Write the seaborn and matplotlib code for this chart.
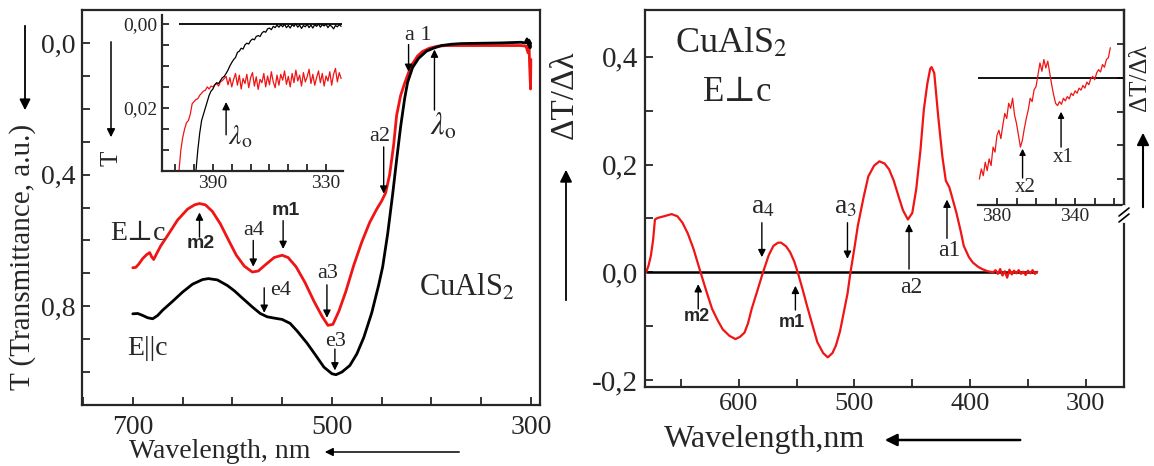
import pandas as pd
import matplotlib
matplotlib.use("Agg")
import matplotlib.pyplot as plt
import seaborn as sns
from matplotlib.ticker import MultipleLocator
from matplotlib.patches import FancyArrowPatch
from matplotlib.lines import Line2D

sns.set_style("ticks")
plt.rcParams["font.family"] = ["Liberation Serif", "DejaVu Serif"]
plt.rcParams["mathtext.fontset"] = "stix"

RED = "#f01414"

# ---------------- data ----------------
# left panel: transmittance, E||c (black)
wl_par = [700, 695, 690, 685, 680, 675, 670, 660, 650, 640, 630, 624, 615, 605, 598,
          590, 580, 572, 565, 558, 550, 542, 535, 525, 517, 508, 500, 496, 490, 482,
          475, 468, 460, 453, 449, 444, 439, 435, 431, 427, 424, 419, 413, 405, 398,
          390, 380, 370, 350, 330, 310, 306, 304, 303, 302, 301, 300.5]
t_par = [0.823, 0.822, 0.828, 0.835, 0.838, 0.828, 0.812, 0.785, 0.757, 0.733, 0.719,
         0.716, 0.720, 0.737, 0.753, 0.775, 0.802, 0.822, 0.832, 0.836, 0.840, 0.852,
         0.875, 0.912, 0.946, 0.985, 1.005, 1.008, 1.0, 0.98, 0.945, 0.895, 0.82,
         0.735, 0.68, 0.58, 0.46, 0.355, 0.255, 0.17, 0.12, 0.075, 0.047, 0.025, 0.016,
         0.008, 0.004, 0.002, 0.001, 0.0, -0.002, 0.0, -0.012, 0.004, -0.008, 0.015, 0.0]

# left panel: transmittance, E perp c (red)
wl_perp = [700, 697, 694, 690, 686, 683, 681, 679, 676, 672, 665, 655, 645, 638, 633,
           627, 620, 612, 604, 596, 588, 580, 574, 566, 558, 550, 544, 536, 527, 518,
           510, 504, 499, 493, 486, 478, 470, 462, 455, 450, 446, 442, 438, 435, 431,
           427, 423, 419, 414, 409, 402, 394, 385, 370, 350, 330, 310, 305, 303, 302,
           301.5, 301, 300.5, 300.2]
t_perp = [0.683, 0.682, 0.672, 0.655, 0.643, 0.637, 0.650, 0.658, 0.640, 0.617, 0.585,
          0.538, 0.505, 0.492, 0.488, 0.492, 0.512, 0.550, 0.598, 0.645, 0.678, 0.696,
          0.693, 0.672, 0.652, 0.645, 0.652, 0.680, 0.728, 0.785, 0.830, 0.858, 0.855,
          0.815, 0.755, 0.675, 0.605, 0.545, 0.505, 0.480, 0.455, 0.40, 0.31, 0.22,
          0.16, 0.123, 0.09, 0.063, 0.04, 0.026, 0.016, 0.010, 0.008, 0.008, 0.008,
          0.008, 0.008, 0.01, 0.03, 0.005, 0.06, 0.10, 0.14, 0.05]

# left inset: edge region, 1 nm steps
ins_wl_par = list(range(399, 321, -1))
ins_t_par = [0.035, 0.030, 0.026, 0.023, 0.0215, 0.020, 0.0185, 0.017, 0.016, 0.0155,
             0.0145, 0.0140, 0.0142, 0.0135, 0.0128, 0.0125, 0.0118, 0.0110, 0.0100,
             0.0092, 0.0085, 0.0080, 0.0068, 0.0065, 0.0058, 0.0060, 0.0050, 0.0046,
             0.0048, 0.0040, 0.0036, 0.0038, 0.0030, 0.0028, 0.0030, 0.0022, 0.0018,
             0.0020, 0.0012, 0.0010, 0.0014, 0.0006, 0.0009, 0.0003, 0.0008, 0.0002,
             0.0007, 0.0001, 0.0009, 0.0004, 0.0010, 0.0002, 0.0006, 0.0000, 0.0008,
             0.0003, 0.0011, 0.0004, 0.0007, 0.0001, 0.0009, 0.0003, 0.0010, 0.0002,
             0.0006, 0.0000, 0.0008, 0.0002, 0.0005, 0.0001, 0.0009, 0.0003, 0.0006,
             0.0012, 0.0004, 0.0007, 0.0002, 0.0006]
ins_wl_perp = list(range(408, 321, -1))
ins_t_perp = [0.035, 0.030, 0.027, 0.025, 0.0235, 0.023, 0.0215, 0.019, 0.0185, 0.018,
              0.0178, 0.017, 0.0165, 0.016, 0.0158, 0.015, 0.0155, 0.0148, 0.015,
              0.0145, 0.0142, 0.0148, 0.0138, 0.0135, 0.013, 0.0125, 0.0145, 0.0128,
              0.0150, 0.0132, 0.0118, 0.0146, 0.0122, 0.0155, 0.0130, 0.0142, 0.0120,
              0.0152, 0.0128, 0.0116, 0.0148, 0.0126, 0.0156, 0.0132, 0.0140, 0.0118,
              0.0150, 0.0124, 0.0145, 0.0114, 0.0138, 0.0152, 0.0122, 0.0146, 0.0120,
              0.0134, 0.0112, 0.0144, 0.0125, 0.0150, 0.0118, 0.0140, 0.0110, 0.0136,
              0.0122, 0.0148, 0.0116, 0.0138, 0.0126, 0.0108, 0.0142, 0.0120, 0.0146,
              0.0128, 0.0112, 0.0140, 0.0118, 0.0148, 0.0124, 0.0136, 0.0114, 0.0146,
              0.0120, 0.0106, 0.0138, 0.0116, 0.0130]

# right panel: derivative dT/dlambda, E perp c
wl_der = [680, 678, 676, 674, 672.4, 670, 664.6, 658, 653, 648.6, 644, 639, 633, 628,
          623, 618, 613.8, 608, 602.8, 599, 595, 592, 588.8, 584, 579, 574, 570, 566,
          563.4, 559, 555.5, 552, 549, 545, 541, 536, 532, 527, 523, 519, 516, 512.5,
          509.7, 506, 503.4, 500, 497, 492, 488, 483, 478.4, 474, 470, 466, 462, 458,
          453.8, 450, 446.6, 443, 440, 437, 434.5, 433.3, 431, 427.6, 424, 421, 418,
          415, 411.8, 408, 405.5, 401, 397.6, 393, 389.6, 385, 380, 378, 376, 374, 372,
          370, 368, 366, 364, 362, 360, 358, 356, 354, 352, 350, 348, 346, 344, 342]
d_der = [0.0, 0.012, 0.030, 0.06, 0.098, 0.101, 0.104, 0.108, 0.104, 0.092, 0.072,
         0.043, 0.0, -0.035, -0.068, -0.090, -0.106, -0.118, -0.124, -0.120, -0.112,
         -0.095, -0.068, -0.035, 0.0, 0.032, 0.049, 0.055, 0.055, 0.048, 0.037, 0.02,
         0.0, -0.03, -0.062, -0.100, -0.130, -0.150, -0.158, -0.150, -0.136, -0.110,
         -0.08, -0.04, 0.0, 0.045, 0.087, 0.14, 0.178, 0.198, 0.206, 0.202, 0.191,
         0.170, 0.142, 0.115, 0.098, 0.110, 0.154, 0.225, 0.302, 0.350, 0.378, 0.381,
         0.370, 0.290, 0.215, 0.17, 0.158, 0.135, 0.11, 0.075, 0.049, 0.028, 0.018,
         0.010, 0.006, 0.002, 0.0, 0.004, -0.003, 0.006, -0.006, 0.002, -0.010, 0.005,
         -0.004, 0.003, -0.002, 0.004, -0.003, 0.001, -0.005, 0.003, -0.002, 0.004,
         -0.003, 0.001]

# right inset: derivative near the edge (arb. units)
ins_wl_der = list(range(389, 321, -1))
ins_d_der = [-3.0, -2.7, -2.9, -2.5, -2.75, -2.4, -2.6, -2.05, -2.2, -1.7, -1.55, -1.8,
             -1.4, -1.05, -1.2, -0.75, -0.9, -0.6, -1.1, -1.35, -1.7, -2.05, -1.85,
             -1.5, -1.2, -0.95, -0.6, -0.7, -0.35, -0.25, 0.1, 0.45, 0.2, 0.55, 0.3,
             0.5, 0.15, -0.2, -0.5, -0.75, -0.82, -0.7, -0.78, -0.6, -0.68, -0.55,
             -0.62, -0.45, -0.52, -0.38, -0.45, -0.3, -0.36, -0.22, -0.3, -0.12, -0.2,
             -0.02, 0.05, -0.05, 0.15, 0.25, 0.18, 0.4, 0.32, 0.55, 0.6, 0.9]

# tick labels
l_xticks, l_xlabels = [700, 500, 300], ["700", "500", "300"]
l_yticks, l_ylabels = [0.0, 0.4, 0.8], ["0,0", "0,4", "0,8"]
li_xticks, li_xlabels = [390, 330], ["390", "330"]
li_yticks, li_ylabels = [0.0, 0.02], ["0,00", "0,02"]
r_xticks, r_xlabels = [600, 500, 400, 300], ["600", "500", "400", "300"]
r_yticks, r_ylabels = [0.4, 0.2, 0.0, -0.2], ["0,4", "0,2", "0,0", "-0,2"]
ri_xticks, ri_xlabels = [380, 340], ["380", "340"]

# ---------------- figure ----------------
W, H = 1154, 466
fig = plt.figure(figsize=(W / 100, H / 100), dpi=100)


def box(x0, y0, x1, y1):
    # pixel box (top-left origin) -> figure fraction rect
    return [x0 / W, 1 - y1 / H, (x1 - x0) / W, (y1 - y0) / H]


def fp(x, y):
    return (x / W, 1 - y / H)


def style_ticks(ax, size, pad, length=6):
    for s in ax.spines.values():
        s.set_linewidth(1.6)
    ax.tick_params(which="both", direction="in", length=length, width=1.3,
                   labelsize=size, pad=pad)
    ax.set_xlabel("")
    ax.set_ylabel("")


def arrow(ax, x, y0, y1, ms=11, lw=1.0):
    ax.annotate("", xy=(x, y1), xytext=(x, y0),
                arrowprops=dict(arrowstyle="-|>", color="k", lw=lw,
                                mutation_scale=ms, shrinkA=0, shrinkB=0))


def fig_arrow(p0, p1, ms=16, lw=1.3):
    fig.add_artist(FancyArrowPatch(fp(*p0), fp(*p1), transform=fig.transFigure,
                                   arrowstyle="-|>", mutation_scale=ms, lw=lw, color="k"))


# ---- left panel ----
ax1 = fig.add_axes(box(82, 10, 540, 405))
sns.lineplot(data=pd.DataFrame({"wl": wl_perp, "T": t_perp}), x="wl", y="T", ax=ax1,
             color=RED, lw=2.0, estimator=None, sort=False)
sns.lineplot(data=pd.DataFrame({"wl": wl_par, "T": t_par}), x="wl", y="T", ax=ax1,
             color="black", lw=2.0, estimator=None, sort=False)
ax1.set_xlim(751, 291)
ax1.set_ylim(1.10, -0.10)
ax1.set_xticks(l_xticks)
ax1.set_xticklabels(l_xlabels)
ax1.xaxis.set_minor_locator(MultipleLocator(50))
ax1.set_yticks(l_yticks)
ax1.set_yticklabels(l_ylabels)
ax1.yaxis.set_minor_locator(MultipleLocator(0.1))
style_ticks(ax1, 20, 5)
ax1.tick_params(axis="x", pad=7)

ann = dict(ha="center", va="center", fontsize=16)
bold = dict(ha="center", va="center", fontsize=14, family="Liberation Sans", weight="bold")
ax1.text(413, -0.024, "a 1", **ann)
arrow(ax1, 423, 0.005, 0.088)
arrow(ax1, 397, 0.204, 0.02)
ax1.text(388, 0.255, r"$\lambda_\mathrm{o}$", ha="center", va="center", fontsize=22)
ax1.text(452, 0.285, "a2", **ann)
arrow(ax1, 448, 0.316, 0.458)
ax1.text(546, 0.509, "m1", **bold)
arrow(ax1, 549, 0.54, 0.626)
ax1.text(579, 0.57, "a4", **ann)
arrow(ax1, 579, 0.60, 0.68)
ax1.text(632, 0.61, "m2", **bold)
arrow(ax1, 633, 0.59, 0.515)
ax1.text(695, 0.58, "E\u22a5c", ha="center", va="center", fontsize=20)
ax1.text(685, 0.927, "E||c", ha="center", va="center", fontsize=20)
ax1.text(552, 0.753, "e4", **ann)
arrow(ax1, 568, 0.744, 0.82)
ax1.text(504, 0.70, "a3", **ann)
arrow(ax1, 505, 0.735, 0.835)
ax1.text(496, 0.907, "e3", **ann)
arrow(ax1, 497, 0.93, 0.995)
ax1.text(365, 0.743, r"CuAlS$_2$", ha="center", va="center", fontsize=22)

# ---- left inset ----
ax2 = fig.add_axes(box(162, 15, 343, 171))
ax2.patch.set_alpha(0)
ax2.hlines(0.0, 321.5, 408, color="black", lw=1.3)
sns.lineplot(data=pd.DataFrame({"wl": ins_wl_perp, "T": ins_t_perp}), x="wl", y="T",
             ax=ax2, color=RED, lw=0.9, estimator=None, sort=False)
sns.lineplot(data=pd.DataFrame({"wl": ins_wl_par, "T": ins_t_par}), x="wl", y="T",
             ax=ax2, color="black", lw=0.9, estimator=None, sort=False)
ax2.set_xlim(417, 321)
ax2.set_ylim(0.035, -0.0021)
ax2.set_xticks(li_xticks)
ax2.set_xticklabels(li_xlabels)
ax2.xaxis.set_minor_locator(MultipleLocator(10))
ax2.set_yticks(li_yticks)
ax2.set_yticklabels(li_ylabels)
ax2.yaxis.set_minor_locator(MultipleLocator(0.005))
style_ticks(ax2, 14, 3, length=5)
ax2.spines["top"].set_visible(False)
ax2.spines["right"].set_visible(False)
arrow(ax2, 383, 0.0264, 0.0186)
ax2.text(375.7, 0.027, r"$\lambda_\mathrm{o}$", ha="center", va="center", fontsize=20)

# ---- right panel ----
ax3 = fig.add_axes(box(645, 10, 1124, 387))
ax3.hlines(0.0, 342, 680, color="black", lw=1.8)
sns.lineplot(data=pd.DataFrame({"wl": wl_der, "d": d_der}), x="wl", y="d", ax=ax3,
             color=RED, lw=1.6, estimator=None, sort=False)
ax3.set_xlim(681, 267)
ax3.set_ylim(-0.213, 0.487)
ax3.set_xticks(r_xticks)
ax3.set_xticklabels(r_xlabels)
ax3.xaxis.set_minor_locator(MultipleLocator(50))
ax3.set_yticks(r_yticks)
ax3.set_yticklabels(r_ylabels)
ax3.yaxis.set_minor_locator(MultipleLocator(0.1))
style_ticks(ax3, 20, 5)
ax3.tick_params(axis="x", labelsize=19, pad=4)
ax3.tick_params(axis="y", labelsize=21)

ann_r = dict(ha="center", va="center", fontsize=17)
ax3.text(606, 0.425, r"CuAlS$_2$", ha="center", va="center", fontsize=26)
ax3.text(601, 0.333, "E\u22a5c", ha="center", va="center", fontsize=25)
ax3.text(579, 0.122, r"a$_\mathrm{4}$", fontsize=20, ha="center", va="center")
arrow(ax3, 580, 0.092, 0.028)
ax3.text(508, 0.122, r"a$_\mathrm{3}$", fontsize=20, ha="center", va="center")
arrow(ax3, 506, 0.092, 0.025)
ax3.text(636, -0.083, "m2", ha="center", va="center", fontsize=13,
         family="Liberation Sans", weight="bold")
arrow(ax3, 635, -0.068, -0.022)
ax3.text(554, -0.093, "m1", ha="center", va="center", fontsize=13,
         family="Liberation Sans", weight="bold")
arrow(ax3, 551, -0.07, -0.025)
ax3.text(451, -0.028, "a2", **ann_r)
arrow(ax3, 452.8, 0.006, 0.09)
ax3.text(418, 0.04, "a1", **ann_r)
arrow(ax3, 420, 0.063, 0.135)

# ---- right inset ----
ax4 = fig.add_axes(box(978, 10, 1124, 205))
ax4.patch.set_alpha(0)
ax4.hlines(0.0, 315, 389.7, color="black", lw=1.3)
sns.lineplot(data=pd.DataFrame({"wl": ins_wl_der, "d": ins_d_der}), x="wl", y="d",
             ax=ax4, color=RED, lw=0.9, estimator=None, sort=False)
ax4.set_xlim(389.7, 315)
ax4.set_ylim(-3.77, 2.02)
ax4.set_xticks(ri_xticks)
ax4.set_xticklabels(ri_xlabels)
ax4.xaxis.set_minor_locator(MultipleLocator(10))
ax4.set_yticks([-3, -2, -1, 0, 1])
style_ticks(ax4, 14, 2, length=5)
ax4.yaxis.tick_right()
ax4.tick_params(axis="y", which="both", direction="in", labelright=False, length=5)
ax4.spines["top"].set_visible(False)
ax4.spines["left"].set_visible(False)
ax4.text(365.6, -3.26, "x2", ha="center", va="center", fontsize=15)
arrow(ax4, 366.9, -2.97, -2.1, ms=9)
ax4.text(346.2, -2.37, "x1", ha="center", va="center", fontsize=15)
arrow(ax4, 347.2, -2.05, -1.0, ms=9)

# break mark on right spine
fig.add_artist(Line2D([fp(1124, 207)[0], fp(1124, 221)[0]],
                      [fp(1124, 207)[1], fp(1124, 221)[1]],
                      transform=fig.transFigure, color="white", lw=3))
for yb in (212, 218):
    fig.add_artist(Line2D([fp(1119, yb + 4)[0], fp(1129, yb - 4)[0]],
                          [fp(1119, yb + 4)[1], fp(1129, yb - 4)[1]],
                          transform=fig.transFigure, color="black", lw=1.2))

# ---- axis labels and direction arrows (outside the axes) ----
fig.text(*fp(23, 257), "T (Transmittance, a.u.)", rotation=90, ha="center",
         va="center", fontsize=21)
fig_arrow((25, 23), (25, 113))
fig.text(*fp(220, 452), "Wavelength, nm", ha="center", va="center", fontsize=20)
fig_arrow((462, 452), (322, 452), ms=12, lw=1.1)
fig.text(*fp(112, 158), "T", rotation=90, ha="center", va="center", fontsize=18)
fig_arrow((111, 39), (111, 140), ms=12, lw=1.1)

fig.text(*fp(565, 95), "\u0394T/\u0394\u03bb", rotation=90, ha="center", va="center",
         fontsize=24)
fig_arrow((566, 303), (566, 167), ms=18, lw=1.3)
fig.text(*fp(764, 440), "Wavelength,nm", ha="center", va="center", fontsize=23)
fig_arrow((1023, 440), (882, 440), ms=18, lw=1.8)
fig.text(*fp(1140, 78), "\u0394T/\u0394\u03bb", rotation=90, ha="center", va="center",
         fontsize=18)
fig_arrow((1143, 210), (1143, 130), ms=18, lw=1.5)

fig.savefig("out.png", dpi=100)
